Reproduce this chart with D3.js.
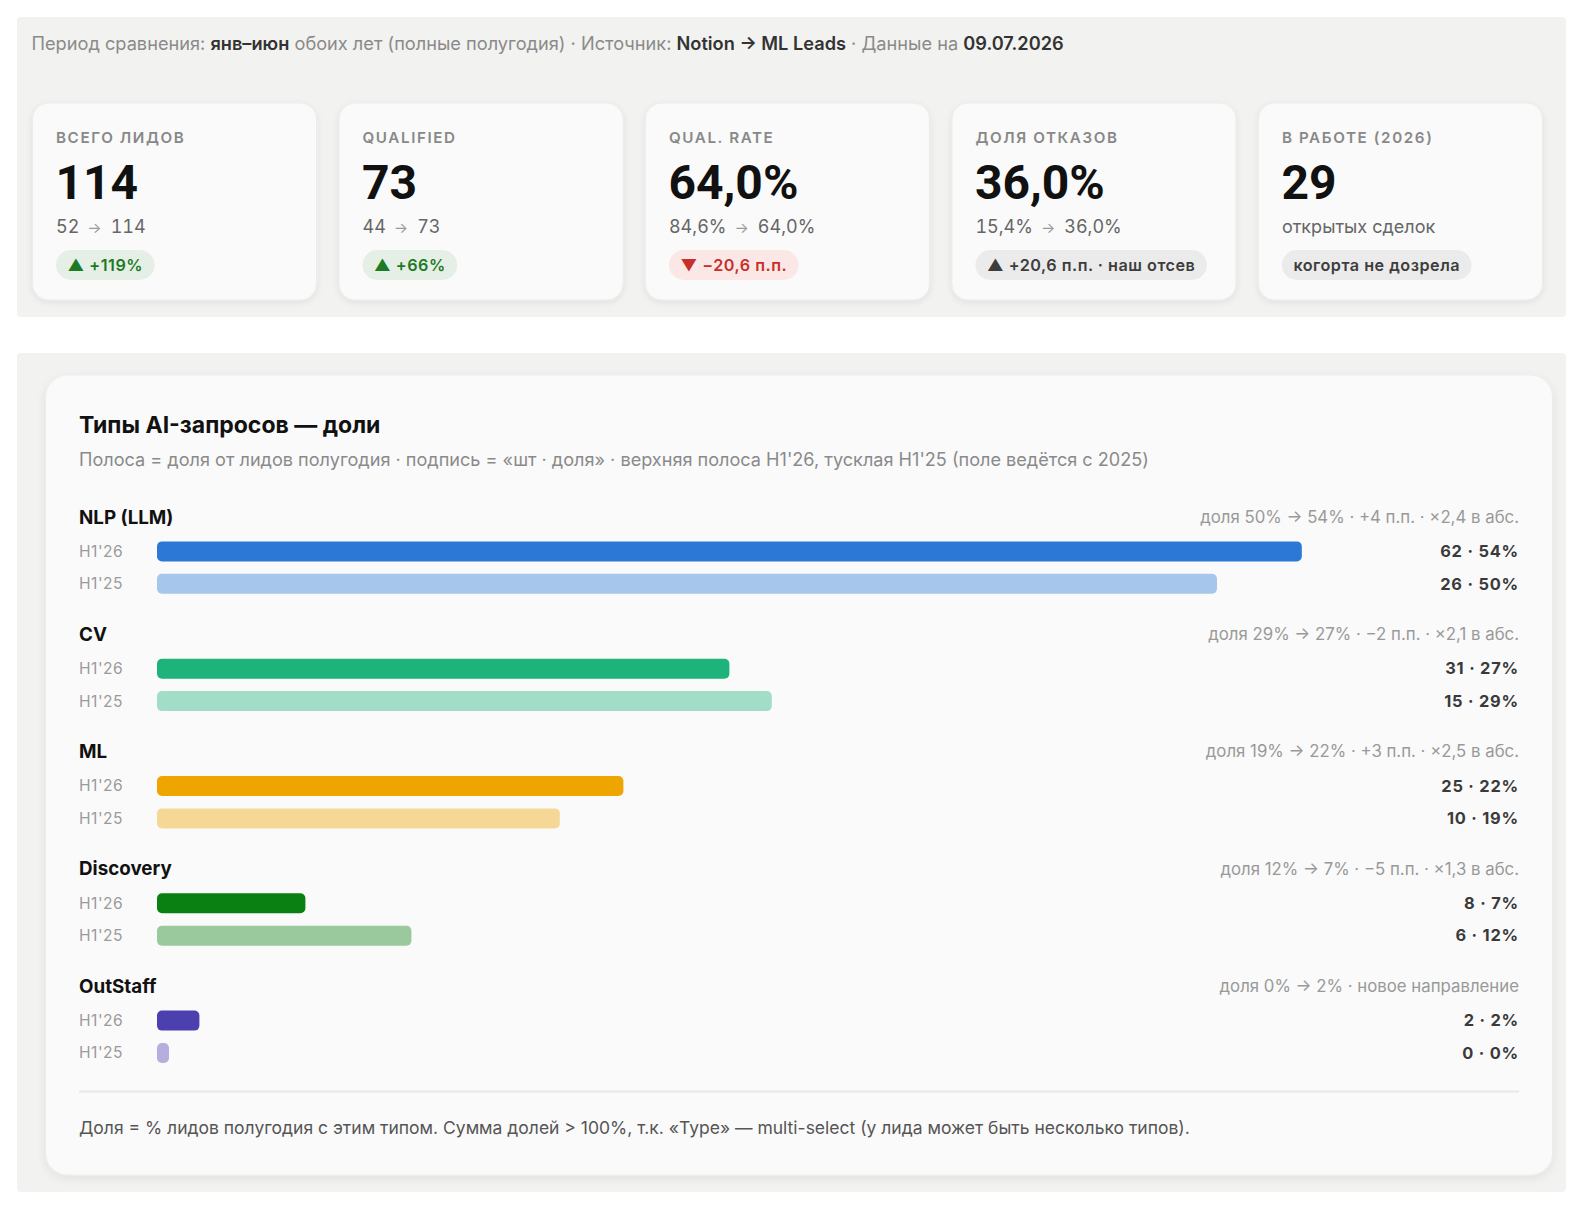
<!DOCTYPE html>
<html><head><meta charset="utf-8">
<script src="https://cdn.jsdelivr.net/npm/d3@7"></script>
<style>
html,body{margin:0;padding:0;background:#ffffff;overflow:hidden;width:1586px;height:1208px;}
svg{display:block;font-family:Inter,"Noto Sans",sans-serif;}
.tnum{font-feature-settings:"tnum" 1;}
</style></head>
<body><div id="chart"></div>
<script>
// ---------- DATA ----------
const headerParts = [
  ["Период сравнения: ", false], ["янв–июн", true], [" обоих лет (полные полугодия) · Источник: ", false],
  ["Notion → ML Leads", true], [" · Данные на ", false], ["09.07.2026", true]
];
const kpiLabels = ["ВСЕГО ЛИДОВ", "QUALIFIED", "QUAL. RATE", "ДОЛЯ ОТКАЗОВ", "В РАБОТЕ (2026)"];
const kpiValues = ["114", "73", "64,0%", "36,0%", "29"];
const kpiFrom = ["52", "44", "84,6%", "15,4%", null];
const kpiTo = ["114", "73", "64,0%", "36,0%", null];
const kpiSubText = [null, null, null, null, "открытых сделок"];
const kpiBadges = ["▲ +119%", "▲ +66%", "▼ −20,6 п.п.", "▲ +20,6 п.п. · наш отсев", "когорта не дозрела"];
const kpiBadgeKind = ["up", "up", "down", "neutral", "neutral"];

const chartTitle = "Типы AI-запросов — доли";
const chartSubtitle = "Полоса = доля от лидов полугодия · подпись = «шт · доля» · верхняя полоса H1'26, тусклая H1'25 (поле ведётся с 2025)";
const categories = ["NLP (LLM)", "CV", "ML", "Discovery", "OutStaff"];
const periods = ["H1'26", "H1'25"];
const counts26 = [62, 31, 25, 8, 2];
const counts25 = [26, 15, 10, 6, 0];
const share26 = [54, 27, 22, 7, 2];
const share25 = [50, 29, 19, 12, 0];
const notes = [
  "доля 50% → 54% · +4 п.п. · ×2,4 в абс.",
  "доля 29% → 27% · −2 п.п. · ×2,1 в абс.",
  "доля 19% → 22% · +3 п.п. · ×2,5 в абс.",
  "доля 12% → 7% · −5 п.п. · ×1,3 в абс.",
  "доля 0% → 2% · новое направление"
];
const footnote = "Доля = % лидов полугодия с этим типом. Сумма долей > 100%, т.к. «Type» — multi-select (у лида может быть несколько типов).";
const catColors = ["#2b78d6", "#1db37b", "#efa500", "#0a7f12", "#4c3fae"];

// ---------- DRAW ----------
const W = 1586, H = 1208;
const svg = d3.select("#chart").append("svg").attr("width", W).attr("height", H);
const defs = svg.append("defs");
const f = defs.append("filter").attr("id", "sh").attr("x", "-10%").attr("y", "-10%").attr("width", "120%").attr("height", "130%");
f.append("feDropShadow").attr("dx", 0).attr("dy", 2).attr("stdDeviation", 3).attr("flood-color", "#000").attr("flood-opacity", 0.08);
const f2 = defs.append("filter").attr("id", "sh2").attr("x", "-5%").attr("y", "-5%").attr("width", "110%").attr("height", "115%");
f2.append("feDropShadow").attr("dx", 0).attr("dy", 3).attr("stdDeviation", 5).attr("flood-color", "#000").attr("flood-opacity", 0.07);

// top panel
svg.append("rect").attr("x", 17).attr("y", 17).attr("width", 1549).attr("height", 300).attr("rx", 4).attr("fill", "#f2f2f0");
const hdr = svg.append("text").attr("x", 31.5).attr("y", 43.5).attr("dy", "0.35em").attr("font-size", 18.2).attr("fill", "#8a8a8a");
headerParts.forEach(([t, b]) => {
  hdr.append("tspan").text(t).attr("font-weight", b ? 600 : 400).attr("fill", b ? "#333" : "#8a8a8a");
});

const cardX = d3.scaleBand().domain(d3.range(kpiLabels.length)).range([32.5, 1542.5]).paddingInner(0.073);
const cards = svg.selectAll("g.kpi").data(kpiLabels).join("g").attr("class", "kpi")
  .attr("transform", (d, i) => `translate(${cardX(i)},103)`);
cards.append("rect").attr("width", cardX.bandwidth()).attr("height", 197).attr("rx", 16)
  .attr("fill", "#fafafa").attr("stroke", "#ececec").attr("filter", "url(#sh)");
cards.append("text").attr("x", 23.5).attr("y", 34.5).attr("dy", "0.35em").attr("font-size", 15.2).attr("font-weight", 600)
  .attr("letter-spacing", 1.6).attr("fill", "#888").text(d => d);
cards.append("text").attr("x", 23).attr("y", 79).attr("dy", "0.35em").attr("font-size", 48).attr("font-weight", 700)
  .attr("font-family", "Roboto, Inter, sans-serif").attr("fill", "#111").text((d, i) => kpiValues[i]);
cards.each(function (d, i) {
  const g = d3.select(this);
  const t = g.append("text").attr("class", "tnum").attr("x", 23.5).attr("y", 123.5).attr("dy", "0.35em").attr("font-size", 18).attr("fill", "#666");
  if (kpiFrom[i]) {
    t.append("tspan").text(kpiFrom[i]);
    t.append("tspan").attr("dx", 8).text("→").attr("fill", "#999").attr("font-size", 15);
    t.append("tspan").attr("dx", 9).text(kpiTo[i]);
  } else {
    t.attr("class", null).text(kpiSubText[i]);
  }
  const kind = kpiBadgeKind[i];
  const bg = kind === "up" ? "#e5efe5" : kind === "down" ? "#fbe8e6" : "#ebebeb";
  const fg = kind === "up" ? "#1d7a25" : kind === "down" ? "#c62f2a" : "#3d3d3d";
  const bt = g.append("text").attr("x", 35).attr("y", 162).attr("dy", "0.35em").attr("font-size", 16.2).attr("font-weight", 600)
    .attr("letter-spacing", 0.5).attr("fill", fg).text(kpiBadges[i]);
  const w = bt.node().getComputedTextLength();
  g.insert("rect", "text:last-child").attr("x", 23.5).attr("y", 147).attr("width", w + 23).attr("height", 30).attr("rx", 15).attr("fill", bg);
});

// second panel
svg.append("rect").attr("x", 17).attr("y", 353).attr("width", 1549).attr("height", 839).attr("rx", 4).attr("fill", "#f2f2f0");
svg.append("rect").attr("x", 45.5).attr("y", 375).attr("width", 1507).attr("height", 800).attr("rx", 22)
  .attr("fill", "#fafafa").attr("stroke", "#ededed").attr("filter", "url(#sh2)");
svg.append("text").attr("x", 79).attr("y", 425).attr("dy", "0.35em").attr("font-size", 23).attr("font-weight", 700)
  .attr("fill", "#111").text(chartTitle);
svg.append("text").attr("x", 79).attr("y", 460).attr("dy", "0.35em").attr("font-size", 18.1).attr("fill", "#8a8a8a").text(chartSubtitle);

const x = d3.scaleLinear().domain([0, 60]).range([157, 157 + 1272]);
const gy = d3.scaleBand().domain(categories).range([517, 517 + 117.3 * 5]);
const rowY = d3.scalePoint().domain(periods).range([34.4, 66.8]);
const minW = 12, barH = 20, rightX = 1519;

const groups = svg.selectAll("g.cat").data(categories).join("g").attr("class", "cat")
  .attr("transform", d => `translate(0,${gy(d)})`);
groups.append("text").attr("x", 79).attr("y", 0).attr("dy", "0.35em").attr("font-size", 18.8).attr("font-weight", 700)
  .attr("fill", "#111").text(d => d);
groups.append("text").attr("x", rightX).attr("y", 0).attr("dy", "0.35em").attr("text-anchor", "end").attr("font-size", 16.8)
  .attr("fill", "#999").text((d, i) => notes[i]);
groups.each(function (c, i) {
  const g = d3.select(this);
  const rows = [
    { p: periods[0], share: share26[i], count: counts26[i], op: 1 },
    { p: periods[1], share: share25[i], count: counts25[i], op: 0.4 }
  ];
  rows.forEach(r => {
    const y = rowY(r.p);
    g.append("text").attr("x", 79).attr("y", y).attr("dy", "0.35em").attr("font-size", 15.6).attr("letter-spacing", 0.5)
      .attr("fill", "#9a9a9a").text(r.p);
    g.append("rect").attr("x", x(0)).attr("y", y - barH / 2)
      .attr("width", Math.max(minW, x(r.share) - x(0))).attr("height", barH).attr("rx", 5)
      .attr("fill", catColors[i]).attr("fill-opacity", r.op);
    g.append("text").attr("x", rightX).attr("y", y).attr("dy", "0.35em").attr("text-anchor", "end")
      .attr("font-size", 16.4).attr("font-weight", 700).attr("letter-spacing", 0.8).attr("fill", "#3a3a3a")
      .text(`${r.count} · ${r.share}%`);
  });
});

svg.append("line").attr("x1", 79).attr("x2", 1519).attr("y1", 1091.5).attr("y2", 1091.5).attr("stroke", "#e8e8e8").attr("stroke-width", 2);
svg.append("text").attr("x", 79).attr("y", 1128).attr("dy", "0.35em").attr("font-size", 17.5).attr("fill", "#555").text(footnote);
</script>
</body></html>
